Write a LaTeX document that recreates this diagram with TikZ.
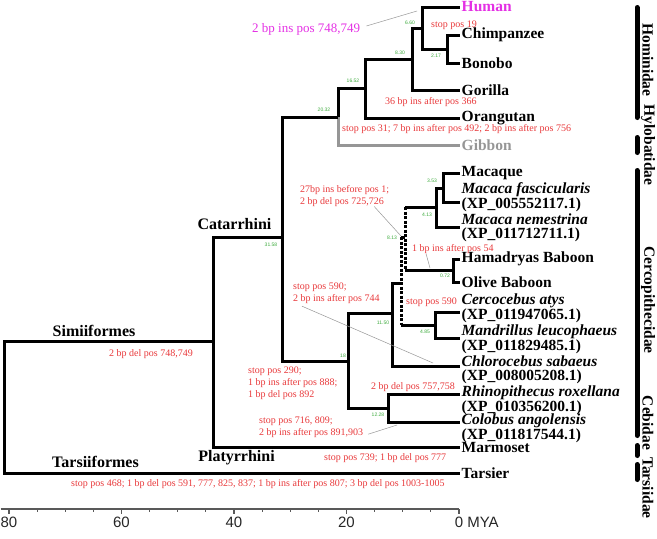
\documentclass[tikz,border=0pt]{standalone}
\usepackage{fontspec}
\setmainfont{Liberation Serif}
\setsansfont{Liberation Sans}
\usepackage{tikz}
\usetikzlibrary{calc}
\definecolor{MutRed}{RGB}{232, 56, 58}
\definecolor{HumanPink}{RGB}{228, 48, 228}
\definecolor{AgeGreen}{RGB}{60, 170, 60}
\definecolor{GibbonGray}{RGB}{150, 150, 150}

\begin{document}
\begin{tikzpicture}[x=1pt, y=-1pt,
    branch/.style={line width=3pt},
    dotbranch/.style={line width=3pt, dash pattern=on 3pt off 1.5pt},
    taxon/.style={anchor=west, inner sep=1.5pt, align=left,
      font=\fontsize{15.5}{14}\selectfont\bfseries},
    clade/.style={inner sep=0pt, font=\fontsize{16}{18}\selectfont\bfseries},
    mut/.style={anchor=north west, inner sep=0pt, align=left, text=MutRed,
      font=\fontsize{10}{12}\selectfont},
    age/.style={inner sep=0pt, text=AgeGreen, font=\sffamily\fontsize{5}{6}\selectfont},
    leader/.style={draw=GibbonGray, line width=0.5pt},
    family/.style={line width=5pt, line cap=round},
    famtext/.style={rotate=-90, inner sep=0pt, font=\fontsize{15.5}{17}\selectfont\bfseries},
    axis/.style={draw=black!65, line width=1.1pt}
  ]
  \useasboundingbox (0,0) rectangle (657,539);

  % internal nodes (x = age, y = stem height)
  \coordinate (root)  at (4,407);
  \coordinate (simi)  at (213,341);
  \coordinate (cata)  at (282,237);
  \coordinate (homo)  at (338,117);
  \coordinate (hmnd)  at (365,88);
  \coordinate (hmnn)  at (412,59);
  \coordinate (hp)    at (422,28);
  \coordinate (pan)   at (447,49);
  \coordinate (cerc)  at (348,361);
  \coordinate (cerci) at (392,313);
  \coordinate (colo)  at (388,408);
  \coordinate (papA)  at (401,283);
  \coordinate (papB)  at (405,237);
  \coordinate (maca)  at (436,207);
  \coordinate (macf)  at (443,188);
  \coordinate (papio) at (453,270);
  \coordinate (cema)  at (435,325);

  % leaf tips
  \foreach \n/\y in {human/7, chimp/35, bonobo/63, gorilla/90, orang/118, gibbon/145,
      macaque/173, fasc/202, nem/227, hama/259, olive/282, atys/312, mand/338,
      chloro/366, rhino/394, colob/422, marmo/447, tarsier/473}
    \coordinate (t-\n) at (460,\y);

  % branches
  \draw[branch, draw=GibbonGray] (homo) |- (t-gibbon);
  \foreach \p/\c in {root/simi, root/t-tarsier, simi/cata, simi/t-marmo, cata/homo,
      cata/cerc, homo/hmnd, hmnd/hmnn, hmnd/t-orang, hmnn/hp, hmnn/t-gorilla,
      hp/t-human, hp/pan, pan/t-chimp, pan/t-bonobo, cerc/cerci, cerc/colo,
      colo/t-rhino, colo/t-colob, cerci/papA, cerci/t-chloro, maca/macf, maca/t-nem,
      macf/t-macaque, macf/t-fasc, papio/t-hama, papio/t-olive, cema/t-atys, cema/t-mand}
    \draw[branch] (\p) |- (\c);
  \draw[dotbranch] (papA |- papB) -- (papA |- cema);
  \draw[branch] (papA |- papB) -- (papB);
  \draw[branch] (papA |- cema) -- (cema);
  \draw[dotbranch] (papB |- maca) -- (papB |- papio);
  \draw[branch] (papB |- maca) -- (maca);
  \draw[branch] (papB |- papio) -- (papio);

  % taxa
  \node[taxon, text=HumanPink] (human) at (t-human) {Human};
  \node[taxon] (chimp) at (t-chimp) {Chimpanzee};
  \node[taxon] (bonobo) at (t-bonobo) {Bonobo};
  \node[taxon] (gorilla) at (t-gorilla) {Gorilla};
  \node[taxon] (orang) at (t-orang) {Orangutan};
  \node[taxon, text=GibbonGray] (gibbon) at (t-gibbon) {Gibbon};
  \node[taxon] (macaque) at (t-macaque) {Macaque};
  \node[taxon] (fasc) at (460,197.5) {\textit{Macaca fascicularis}\\(XP\_005552117.1)};
  \node[taxon] (nem) at (460,228) {\textit{Macaca nemestrina}\\(XP\_011712711.1)};
  \node[taxon] (hama) at (t-hama) {Hamadryas Baboon};
  \node[taxon] (olive) at (t-olive) {Olive Baboon};
  \node[taxon] (atys) at (460,308) {\textit{Cercocebus atys}\\(XP\_011947065.1)};
  \node[taxon] (mand) at (460,339) {\textit{Mandrillus leucophaeus}\\(XP\_011829485.1)};
  \node[taxon] (chloro) at (460,370) {\textit{Chlorocebus sabaeus}\\(XP\_008005208.1)};
  \node[taxon] (rhino) at (460,400) {\textit{Rhinopithecus roxellana}\\(XP\_010356200.1)};
  \node[taxon] (colob) at (460,428) {\textit{Colobus angolensis}\\(XP\_011817544.1)};
  \node[taxon] (marmo) at (t-marmo) {Marmoset};
  \node[taxon] (tarsier) at (t-tarsier) {Tarsier};

  % clades
  \node[clade] (lab-simi) at (94,331) {Simiiformes};
  \node[clade] (lab-cata) at (234.5,224) {Catarrhini};
  \node[clade] (lab-platy) at (236.5,458) {Platyrrhini};
  \node[clade] (lab-tars) at (95.5,462) {Tarsiiformes};

  % divergence times
  \foreach \x/\y/\v [count=\i] in {410/23/6.60, 436/56/2.17, 400/53/8.30, 353/81/16.52,
      324/110/20.32, 271/245/31.58, 432/181/3.53, 427/215/4.13, 392/238/8.13,
      445/276/0.72, 383/323/11.50, 425/332/4.85, 343/356/18, 378/415/12.28}
    \node[age] (age\i) at (\x,\y) {\v};

  % mutations
  \node[anchor=west, inner sep=0pt, text=HumanPink, font=\fontsize{13}{15}\selectfont]
    (hum-ins) at (252,29) {2 bp ins pos 748,749};
  \node[mut] (m-chimp) at (431,21) {stop pos 19};
  \node[mut] (m-gorilla) at (385,97) {36 bp ins after pos 366};
  \node[mut] (m-orang) at (342,124) {stop pos 31; 7 bp ins after pos 492; 2 bp ins after pos 756};
  \node[mut] (m-papio) at (300,185) {27bp ins before pos 1;\\2 bp del pos 725,726};
  \node[mut] (m-baboon) at (412,244) {1 bp ins after pos 54};
  \node[mut] (m-chloro) at (293,283) {stop pos 590;\\2 bp ins after pos 744};
  \node[mut] (m-atys) at (406,298) {stop pos 590};
  \node[mut] (m-cerc) at (248,367) {stop pos 290;\\1 bp ins after pos 888;\\1 bp del pos 892};
  \node[mut] (m-colobinae) at (371,382) {2 bp del pos 757,758};
  \node[mut] (m-colob) at (259,417) {stop pos 716, 809;\\2 bp ins after pos 891,903};
  \node[mut] (m-simi) at (109,349) {2 bp del pos 748,749};
  \node[mut] (m-marmo) at (324,453) {stop pos 739; 1 bp del pos 777};
  \node[mut] (m-tarsier) at (71,479) {stop pos 468; 1 bp del pos 591, 777, 825, 837; 1 bp ins after pos 807; 3 bp del pos 1003-1005};

  % pointers
  \coordinate (ptr-human) at (417,11);
  \coordinate (ptr-papio) at (401,236);
  \coordinate (ptr-baboon) at (430,268);
  \coordinate (ptr-chloro) at (433,363);
  \coordinate (ptr-colob) at (397,425);
  \draw[leader] ([xshift=6pt, yshift=3pt]hum-ins.east) -- (ptr-human);
  \draw[leader] ([xshift=-15pt]m-papio.south east) -- (ptr-papio);
  \draw[leader] ([xshift=14pt]m-baboon.south west) -- (ptr-baboon);
  \draw[leader] ([xshift=9pt, yshift=-2pt]m-chloro.south west) -- (ptr-chloro);
  \draw[leader] ([xshift=5pt, yshift=4pt]m-colob.south east) -- (ptr-colob);

  % families
  \foreach \a/\b in {7.5/117.5, 137.5/152.5, 170.5/435.5, 445.5/455.5, 464.5/479.5}
    \draw[family] (637,\a) -- (637,\b);
  \node[famtext] (fam-hom) at (648,60) {Hominidae};
  \node[famtext] (fam-hyl) at (648,145) {Hylobatidae};
  \node[famtext] (fam-cer) at (648,300) {Cercopithecidae};
  \node[famtext] (fam-ceb) at (648,423) {Cebidae};
  \node[famtext] (fam-tar) at (648,488) {Tarsiidae};

  % time axis
  \draw[axis] (0.5,509) coordinate (ax-l) -- (459,509) coordinate (ax-r);
  \foreach \t in {5,10,...,75}
    \draw[axis] ({459-5.625*\t},509) -- ++(0,3);
  \foreach \t in {80,60,40,20}
    \draw[axis] ({459-5.625*\t},509) -- ++(0,5)
      node[anchor=north, inner sep=2pt, text=black!85,
        font=\sffamily\fontsize{15}{18}\selectfont] (tick\t) {\t};
  \draw[axis] (ax-r) -- ++(0,5)
    node[anchor=north, inner sep=2pt, text=black!85,
      font=\sffamily\fontsize{15}{18}\selectfont] (tick0) {0\rlap{ MYA}};
\end{tikzpicture}
\end{document}
